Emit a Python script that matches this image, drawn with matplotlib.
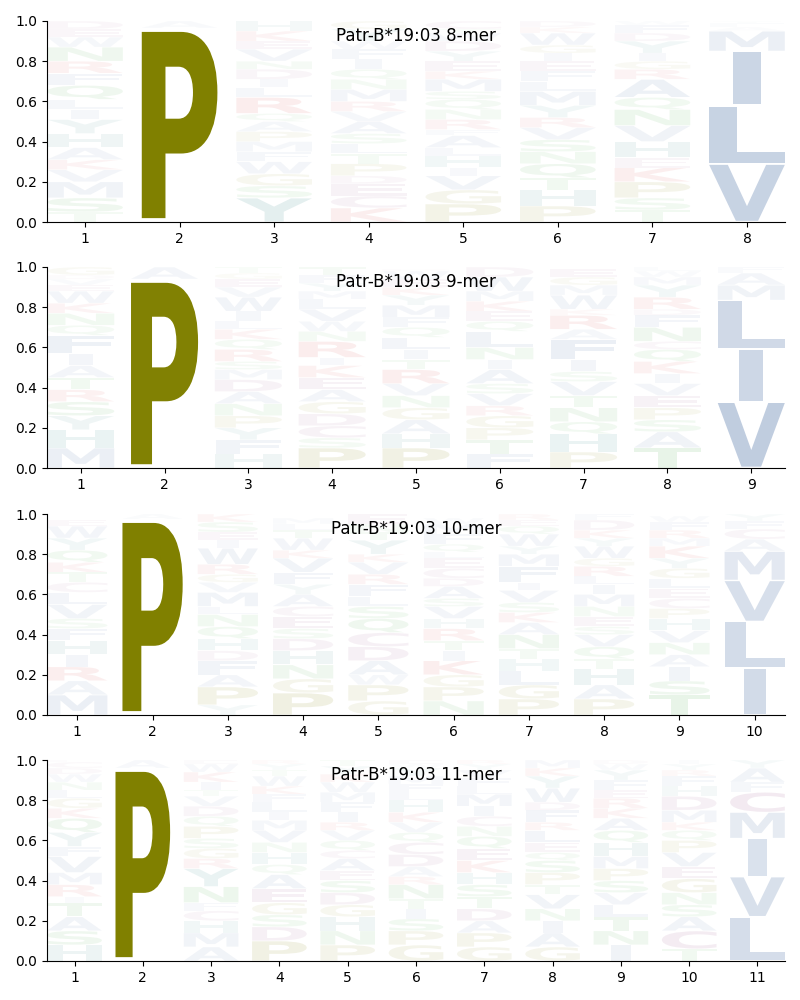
import matplotlib
matplotlib.use("Agg")
import matplotlib.pyplot as plt
from matplotlib.textpath import TextPath
from matplotlib.patches import PathPatch
from matplotlib.font_manager import FontProperties
from matplotlib.transforms import Affine2D

# letters of each column, bottom to top, with their heights
titles = ["Patr-B*19:03 8-mer", "Patr-B*19:03 9-mer",
          "Patr-B*19:03 10-mer", "Patr-B*19:03 11-mer"]

letters_8 = ["TSMVKAHYILQFRNWED", "PA", "YSGWFMPAQRLIDNVEKH",
             "KCEDPTLSAVRMNQIFWYG", "PGVIHLAFRNQSMKEYDWTC",
             "PHTQNSVRYMLFEIGWKD", "TSPKEHVNQARGIYDFW", "VLIMAFY"]
heights_8 = [
    [.05, .07, .08, .06, .05, .06, .07, .07, .05, .05, .07, .06, .06, .07, .05, .04, .04],
    [.965, .035],
    [.12, .06, .06, .06, .05, .05, .05, .05, .04, .08, .05, .04, .05, .04, .06, .04, .05, .05],
    [.07, .06, .06, .04, .06, .05, .05, .05, .06, .05, .05, .06, .05, .05, .05, .05, .04, .06, .04],
    [.09, .07, .07, .04, .06, .04, .06, .03, .05, .05, .05, .04, .06, .04, .05, .05, .05, .04, .02, .04],
    [.08, .08, .06, .07, .06, .06, .06, .05, .06, .07, .05, .05, .05, .04, .04, .06, .03, .03],
    [.06, .06, .08, .07, .05, .08, .08, .08, .06, .09, .05, .04, .04, .06, .04, .04, .02],
    [.29, .29, .27, .10, .02, .02, .01],
]

letters_9 = ["MHYSRTAIFQNKWEVDG", "PA", "HFYPNADMSRQKLIWVEGT",
             "PSCDGAEKIRNWVLMYFT", "PHAGNVRTILQFMYKEWD",
             "FTPGRVSAINLQEKMWD", "PHQNTVSIFARKWMGE",
             "TASPEVIKQCNFDRYMWL", "VILMAF"]
heights_9 = [
    [.10, .09, .07, .07, .06, .06, .06, .06, .09, .05, .06, .05, .06, .03, .03, .02, .04],
    [.94, .06],
    [.07, .07, .06, .06, .06, .06, .06, .05, .04, .06, .05, .05, .04, .05, .07, .05, .04, .03, .03],
    [.10, .05, .06, .06, .06, .06, .06, .06, .04, .08, .05, .05, .06, .05, .04, .04, .04, .04],
    [.10, .07, .07, .06, .06, .06, .07, .05, .05, .06, .05, .05, .06, .05, .04, .04, .04, .01],
    [.07, .07, .06, .06, .05, .06, .05, .07, .05, .06, .08, .05, .05, .05, .05, .07, .05],
    [.08, .09, .06, .07, .06, .07, .05, .06, .10, .05, .07, .03, .07, .05, .04, .04],
    [.10, .08, .06, .06, .06, .06, .05, .06, .06, .04, .07, .06, .03, .06, .06, .04, .03, .02],
    [.33, .26, .245, .075, .06, .03],
]

letters_10 = ["MARIHFSVLCTKQYWE", "PA", "YPAFDHQNLMVGRWIESK",
              "PGNHDSECAYFVKWTLM", "GPWADCQSLFRVKYTNE",
              "NPGKITRHVSADCELQFMW", "PGLHTNAKSVIFMYWQER",
              "PAHTQVSENMILRGWYKDF", "TSIANVHPCELGYKMRFW", "ILVMACFY"]
heights_10 = [
    [.10, .07, .07, .06, .07, .06, .05, .07, .06, .05, .05, .05, .06, .06, .06, .03],
    [.975, .025],
    [.05, .09, .06, .07, .05, .06, .06, .06, .04, .07, .05, .04, .05, .08, .04, .04, .05, .04],
    [.11, .07, .07, .07, .06, .05, .06, .05, .06, .05, .06, .07, .04, .06, .04, .03, .03],
    [.07, .08, .05, .07, .07, .07, .07, .06, .05, .06, .05, .06, .04, .07, .04, .04, .05],
    [.07, .07, .06, .07, .05, .05, .06, .05, .06, .04, .06, .04, .05, .05, .03, .04, .05, .05, .03],
    [.08, .07, .07, .06, .05, .07, .06, .05, .05, .06, .04, .08, .06, .04, .06, .04, .03, .03],
    [.08, .07, .08, .05, .06, .06, .04, .05, .05, .06, .05, .04, .05, .04, .06, .04, .04, .05, .03],
    [.10, .07, .07, .06, .06, .06, .06, .05, .05, .05, .05, .05, .05, .06, .04, .04, .04, .03],
    [.235, .23, .205, .145, .06, .05, .04, .035],
]

letters_11 = ["HSATIRMVFYQKGLNWDCE", "PA", "AMHCFNYRGSPQDVTIKWE",
              "PDSGEAQHNVMILFKWTYR", "PNHGDSEACQVRIFMWKYT",
              "GPSITNRADCQVKHLFMYWE", "GPADTSHKEQNCIMLFVYR",
              "GAINVTPSQELRFDWYKM", "INTLVSPMHQAKREFYWD",
              "TCASNGEVPQKMDHFRYI", "LVIMCFAY"]
heights_11 = [
    [.08, .07, .07, .07, .03, .06, .06, .08, .05, .07, .07, .05, .05, .04, .04, .04, .03, .03, .01],
    [.96, .04],
    [.07, .07, .06, .05, .04, .08, .09, .05, .05, .05, .06, .05, .05, .05, .03, .04, .05, .04, .02],
    [.10, .07, .06, .06, .07, .07, .05, .06, .05, .06, .05, .04, .05, .04, .04, .05, .03, .03, .02],
    [.08, .07, .07, .06, .06, .06, .05, .06, .04, .05, .05, .04, .05, .05, .05, .05, .04, .04, .03],
    [.08, .07, .06, .05, .05, .07, .04, .05, .06, .06, .05, .05, .05, .06, .04, .04, .04, .04, .02, .02],
    [.07, .07, .06, .06, .06, .06, .06, .06, .06, .06, .05, .05, .05, .06, .04, .04, .04, .03, .02],
    [.07, .07, .06, .06, .07, .05, .06, .06, .04, .05, .06, .04, .06, .04, .07, .06, .04, .04],
    [.08, .07, .07, .06, .06, .06, .06, .06, .07, .06, .06, .05, .05, .04, .05, .05, .03, .02],
    [.06, .09, .07, .06, .06, .07, .06, .07, .06, .05, .04, .06, .07, .05, .05, .03, .03, .02],
    [.22, .20, .19, .13, .10, .05, .07, .04],
]

colors = {}
for aa in "PG":
    colors[aa] = "#808000"
for aa in "AVLIMFW":
    colors[aa] = "#4a6fa5"
for aa in "KR":
    colors[aa] = "#d62728"
for aa in "DEC":
    colors[aa] = "#8e3f7e"
for aa in "NQST":
    colors[aa] = "#2ca02c"
for aa in "HY":
    colors[aa] = "#2a8080"

fp = FontProperties(family="DejaVu Sans", weight="bold")
glyphs = {}
# narrow glyphs (I) keep their proportions relative to this one
ref_width = TextPath((0, 0), "L", size=1, prop=fp).get_extents().width


def draw_letter(ax, ch, x, y0, h, width=0.8, vpad=0.04):
    if ch not in glyphs:
        glyphs[ch] = TextPath((0, 0), ch, size=1, prop=fp)
    path = glyphs[ch]
    bb = path.get_extents()
    gw = width * min(1.0, bb.width / ref_width)
    gh = h * (1 - vpad)
    tr = (Affine2D().translate(-bb.x0, -bb.y0)
          .scale(gw / bb.width, gh / bb.height)
          .translate(x - gw / 2, y0 + h * vpad / 2))
    patch = PathPatch(tr.transform_path(path), facecolor=colors[ch],
                      edgecolor="none", alpha=min(1.0, 1.05 * h))
    ax.add_patch(patch)


fig = plt.figure(figsize=(8, 10), dpi=100)
panels = [(letters_8, heights_8), (letters_9, heights_9),
          (letters_10, heights_10), (letters_11, heights_11)]
bottoms = [0.778, 0.532, 0.285, 0.039]

for (lets, hts), title, b in zip(panels, titles, bottoms):
    ax = fig.add_axes([0.059, b, 0.922, 0.201])
    n = len(lets)
    for i in range(n):
        y = 0.0
        for ch, h in zip(lets[i], hts[i]):
            draw_letter(ax, ch, i + 1, y, h)
            y += h
    ax.set_xlim(0.6, n + 0.4)
    ax.set_ylim(0, 1)
    ax.set_xticks(range(1, n + 1))
    ax.set_yticks([0, 0.2, 0.4, 0.6, 0.8, 1.0])
    ax.spines["top"].set_visible(False)
    ax.spines["right"].set_visible(False)
    ax.text(0.5, 0.925, title, transform=ax.transAxes, ha="center",
            va="center", fontsize=12)

fig.savefig("out.png", dpi=100)
